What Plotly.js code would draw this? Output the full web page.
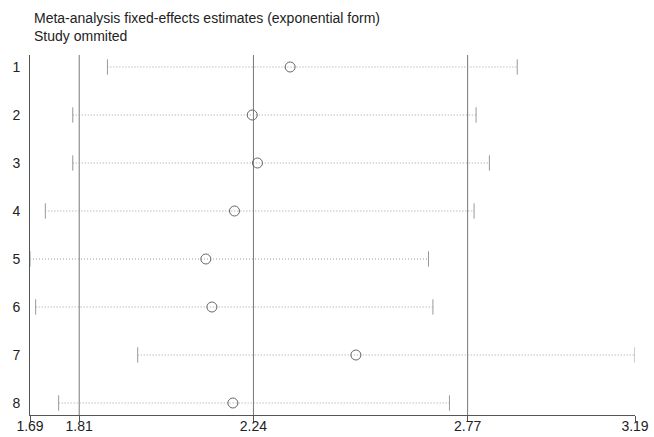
<!DOCTYPE html>
<html>
<head>
<meta charset="utf-8">
<script src="https://cdn.plot.ly/plotly-3.0.1.min.js"></script>
<style>html,body{margin:0;padding:0;background:#fff;}#chart{width:654px;height:437px;}</style>
</head>
<body>
<div id="chart"></div>
<script>
// Study omitted (row labels)
var studies = [1, 2, 3, 4, 5, 6, 7, 8];
// Estimates when the study is omitted (exponential form)
var estimate = [2.335, 2.241, 2.254, 2.197, 2.126, 2.141, 2.498, 2.193];
var lowerCI  = [1.882, 1.796, 1.796, 1.728, 1.690, 1.704, 1.957, 1.761];
var upperCI  = [2.898, 2.796, 2.829, 2.791, 2.678, 2.689, 3.190, 2.730];
// Combined estimate and its confidence limits (reference lines)
var overall = [1.812, 2.244, 2.775];
// Axis ticks
var tickValues = [1.69, 1.812, 2.244, 2.775, 3.19];
var tickLabels = ['1.69', '1.81', '2.24', '2.77', '3.19'];
var xMin = 1.69, xMax = 3.19;

var ciX = [], ciY = [];
studies.forEach(function (s, i) {
  ciX.push(lowerCI[i], upperCI[i], null);
  ciY.push(s, s, null);
});

var refX = [], refY = [];
overall.forEach(function (v) {
  refX.push(v, v, null);
  refY.push(0.75, 8.25, null);
});

var traces = [
  {x: refX, y: refY, mode: 'lines', line: {color: '#777', width: 1}, hoverinfo: 'skip'},
  {x: ciX, y: ciY, mode: 'lines', line: {color: '#a0a0a0', width: 1, dash: '1px,2px'}, hoverinfo: 'skip'},
  {x: lowerCI.concat(upperCI), y: studies.concat(studies), mode: 'markers',
   marker: {symbol: 'line-ns', size: 11, line: {color: '#999', width: 1}}, hoverinfo: 'skip'},
  {x: estimate, y: studies, mode: 'markers',
   marker: {symbol: 'circle-open', size: 10, color: '#666', line: {color: '#666', width: 1}}}
];

var layout = {
  width: 654, height: 437,
  margin: {l: 30, r: 19, t: 55, b: 22, pad: 0},
  paper_bgcolor: '#fff', plot_bgcolor: '#fff',
  showlegend: false,
  font: {family: 'Liberation Sans, Arial, sans-serif', size: 14, color: '#222'},
  title: {text: 'Meta-analysis fixed-effects estimates (exponential form)<br>Study ommited',
    x: 34/654, xref: 'container', xanchor: 'left',
    y: 1 - 23/437, yref: 'container', yanchor: 'top',
    font: {size: 14, color: '#222'}},
  xaxis: {range: [xMin, xMax], tickvals: tickValues, ticktext: tickLabels,
    showline: true, linecolor: '#555', linewidth: 1, ticks: 'outside', ticklen: 6,
    tickcolor: '#555', showgrid: false, zeroline: false, automargin: false,
    ticklabelstandoff: -8,
    tickfont: {size: 14, color: '#222'}},
  yaxis: {range: [8.25, 0.75], tickvals: studies, ticktext: studies.map(String),
    showline: true, linecolor: '#555', linewidth: 1, ticks: '', ticklabelstandoff: 6,
    showgrid: false, zeroline: false, automargin: false,
    tickfont: {size: 14, color: '#222'}}
};

Plotly.newPlot('chart', traces, layout, {displayModeBar: false, staticPlot: true});
</script>
</body>
</html>
